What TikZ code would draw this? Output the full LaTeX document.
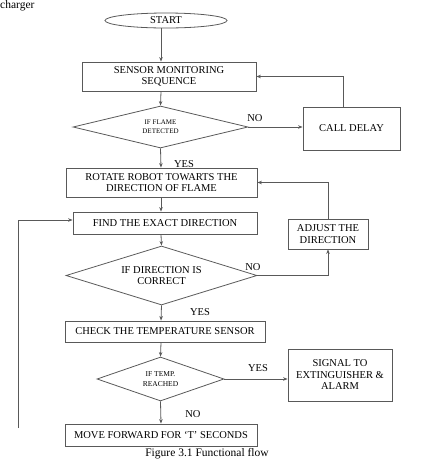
\documentclass[tikz,border=0pt]{standalone}
\usepackage{fontspec}
\setmainfont{Liberation Serif}
\usetikzlibrary{shapes.geometric,arrows.meta}
\begin{document}
\begin{tikzpicture}[x=1pt,y=-1pt,
  line/.style={draw=black!65,line width=0.8pt},
  arr/.style={line,-{Stealth[length=4.5pt,width=3.5pt]}},
  box/.style={line,rectangle,inner sep=0pt,align=center,font=\fontsize{10.5}{11.5}\selectfont},
  dia/.style={line,diamond,inner sep=0pt,align=center},
  lbl/.style={font=\fontsize{10.5}{12}\selectfont,inner sep=0pt}]
\useasboundingbox (0,0) rectangle (433,467);
\node[anchor=base west,inner sep=0pt,font=\fontsize{11.5}{12}\selectfont] (top) at (0,8.5) {charger};
\coordinate (col) at (161,0);
\node[line,ellipse,minimum width=122pt,minimum height=15pt,inner sep=0pt,font=\fontsize{10.5}{12}\selectfont] (start) at (166,20.5) {START};
\node[box,minimum width=174pt,minimum height=29pt] (sensor) at (169,76.5) {SENSOR MONITORING\\SEQUENCE};
\node[dia,minimum width=175pt,minimum height=42pt,shape aspect=4.17,font=\fontsize{7}{9}\selectfont] (d1) at (160.5,127) {IF FLAME\\DETECTED};
\node[box,minimum width=97pt,minimum height=43pt] (delay) at (351.5,128.5) {CALL DELAY};
\node[box,minimum width=191pt,minimum height=29pt] (rotate) at (161.5,182.5) {ROTATE ROBOT TOWARTS THE\\DIRECTION OF FLAME};
\node[box,minimum width=184pt,minimum height=22pt] (find) at (165,223) {FIND THE EXACT DIRECTION};
\node[dia,minimum width=191pt,minimum height=59pt,shape aspect=3.24,font=\fontsize{10.5}{11.5}\selectfont] (d2) at (161.5,275.5) {IF DIRECTION IS\\CORRECT};
\node[box,minimum width=80pt,minimum height=30pt] (adjust) at (328,234) {ADJUST THE\\DIRECTION};
\node[box,minimum width=200pt,minimum height=21pt] (check) at (165,331.5) {CHECK THE TEMPERATURE SENSOR};
\node[dia,minimum width=127pt,minimum height=44pt,shape aspect=2.9,font=\fontsize{7.5}{10}\selectfont] (d3) at (160.5,379) {IF TEMP.\\REACHED};
\node[box,minimum width=104pt,minimum height=52pt] (signal) at (340,375) {SIGNAL TO\\EXTINGUISHER \&\\ALARM};
\node[box,minimum width=192pt,minimum height=22pt] (move) at (161,435) {MOVE FORWARD FOR `T' SECONDS};
\node[font=\fontsize{11.5}{13}\selectfont,inner sep=0pt] (cap) at (207,454) {Figure 3.1 Functional flow};
\coordinate (loop) at (18,428);
% connectors
\draw[arr] (start.south -| col) -- (sensor.north -| col);
\draw[arr] (sensor.south -| col) -- (d1.north);
\draw[arr] (d1.east) -- (d1.east -| delay.west);
\node[lbl] (no1) at (255,118) {NO};
\draw[arr] (delay.north -| 343,0) |- (sensor.east);
\draw[arr] (d1.south) -- (rotate.north -| col);
\node[lbl] (yes1) at (184,164) {YES};
\draw[arr] (rotate.south -| col) -- (find.north -| col);
\draw[arr] (find.south -| col) -- (d2.north);
\draw[arr] (d2.east) -| (adjust.south);
\node[lbl] (no2) at (253,267) {NO};
\draw[arr] (adjust.north) |- (rotate.east);
\draw[arr] (d2.south) -- (check.north -| col);
\node[lbl] (yes2) at (200,312) {YES};
\draw[arr] (check.south -| col) -- (d3.north);
\draw[arr] (d3.east) -- (d3.east -| signal.west);
\node[lbl] (yes3) at (258,368) {YES};
\draw[arr] (d3.south) -- (move.north -| col);
\node[lbl] (no3) at (193,414) {NO};
\draw[arr] (loop) |- ([yshift=3pt]find.west);
\end{tikzpicture}
\end{document}
